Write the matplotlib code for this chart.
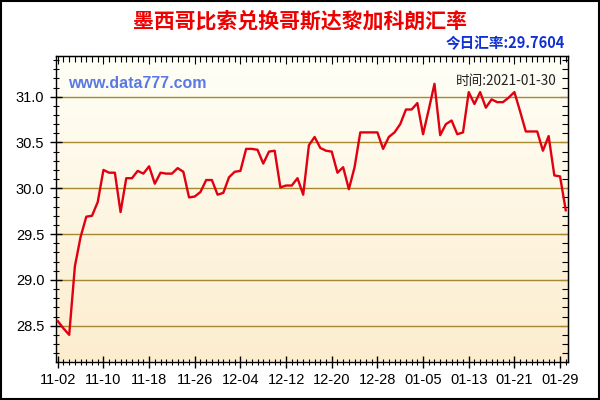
import matplotlib
matplotlib.use("Agg")
import matplotlib.pyplot as plt
import numpy as np
import pandas as pd
from matplotlib.colors import LinearSegmentedColormap
from matplotlib.patches import Rectangle
from matplotlib.ticker import MultipleLocator



title = "墨西哥比索兑换哥斯达黎加科朗汇率"
today_text = "今日汇率:29.7604"
site_text = "www.data777.com"
time_text = "时间:2021-01-30"

# daily rates 2020-11-02 .. 2021-01-30
dates = pd.date_range("2020-11-02", "2021-01-30", freq="D")
rates = [28.55, 28.47, 28.40, 29.15, 29.47, 29.69, 29.70, 29.85, 30.20, 30.17,
         30.17, 29.74, 30.11, 30.11, 30.19, 30.16, 30.24, 30.05, 30.17, 30.16,
         30.16, 30.22, 30.18, 29.90, 29.91, 29.96, 30.09, 30.09, 29.93, 29.95,
         30.12, 30.18, 30.19, 30.43, 30.43, 30.42, 30.27, 30.40, 30.41, 30.01,
         30.03, 30.03, 30.11, 29.93, 30.47, 30.56, 30.44, 30.41, 30.40, 30.17,
         30.23, 29.99, 30.23, 30.61, 30.61, 30.61, 30.61, 30.43, 30.56, 30.61,
         30.70, 30.86, 30.86, 30.93, 30.59, 30.86, 31.14, 30.58, 30.70, 30.74,
         30.59, 30.61, 31.05, 30.92, 31.05, 30.88, 30.97, 30.94, 30.94, 30.99,
         31.05, 30.84, 30.62, 30.62, 30.62, 30.41, 30.57, 30.14, 30.13, 29.76]

x_labels = [d.strftime("%m-%d") for d in dates[::8]]
y_ticks = [28.5, 29.0, 29.5, 30.0, 30.5, 31.0]

cjk = ["Noto Sans CJK SC", "DejaVu Sans"]
plt.rcParams["font.family"] = ["Liberation Sans", "DejaVu Sans"]

days = np.arange(len(rates))
xmin, xmax = -0.4, len(rates) - 0.55
ymin, ymax = 28.107, 31.444

fig = plt.figure(figsize = (6, 4), dpi = 100)
ax = fig.add_axes([0.0925, 0.0958, 0.8547, 0.7642])

# background gradient of the plot area
bg = LinearSegmentedColormap.from_list("bg", ["#FFFFF7", "#FCEDCF"])
ax.imshow(np.linspace(0, 1, 256).reshape(-1, 1), extent = [xmin, xmax, ymin, ymax],
          aspect = "auto", cmap = bg, origin = "upper", zorder = 0)

for y in y_ticks:
    ax.axhline(y, color = "#A8882E", lw = 1, zorder = 1)

ax.plot(days, rates, color = "#E00010", lw = 1.7, zorder = 3)

ax.set_xlim(xmin, xmax)
ax.set_ylim(ymin, ymax)

ax.set_xticks(days[::8])
ax.set_xticklabels(x_labels)
ax.xaxis.set_minor_locator(MultipleLocator(1))
ax.set_yticks(y_ticks)
ax.set_yticklabels(["%.1f" % v for v in y_ticks])
ax.yaxis.set_minor_locator(MultipleLocator(0.1))

ax.tick_params(which = "major", direction = "inout", length = 8, width = 1,
               labelsize = 10.5, colors = "black", pad = 4)
ax.tick_params(which = "minor", direction = "inout", length = 5, width = 0.8)

# top and right ticks point inward
top = ax.secondary_xaxis("top")
top.set_xticks(days[::8])
top.xaxis.set_minor_locator(MultipleLocator(1))
top.tick_params(which = "major", direction = "in", length = 6, labeltop = False)
top.tick_params(which = "minor", direction = "in", length = 4, width = 0.8)
right = ax.secondary_yaxis("right")
right.set_yticks(y_ticks)
right.yaxis.set_minor_locator(MultipleLocator(0.1))
right.tick_params(which = "major", direction = "in", length = 6, labelright = False)
right.tick_params(which = "minor", direction = "in", length = 4, width = 0.8)

for s in ax.spines.values():
    s.set_linewidth(1)
    s.set_color("black")

fig.text(0.5, 0.948, title, ha = "center", va = "center", color = "#EE0000",
         fontsize = 15, fontweight = "bold", family = cjk)
fig.text(0.942, 0.892, today_text, ha = "right", va = "center", color = "#1030D0",
         fontsize = 10.5, fontweight = "bold", family = cjk)
fig.text(0.113, 0.79, site_text, ha = "left", va = "center", color = "#5A78E6",
         fontsize = 11.5, fontweight = "bold")
fig.text(0.927, 0.797, time_text, ha = "right", va = "center", color = "#222222",
         fontsize = 9.8, family = cjk)

fig.patches.append(Rectangle((0.001, 0.002), 0.997, 0.996, transform = fig.transFigure,
                             fill = False, edgecolor = "black", lw = 1.5))

fig.savefig("out.png", dpi = 100)
